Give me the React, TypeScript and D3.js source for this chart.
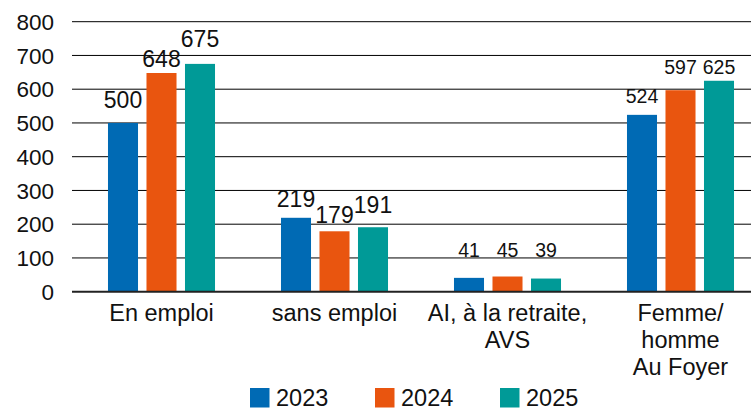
import React from "react";
import * as d3 from "d3";

const categories: string[][] = [
  ["En emploi"],
  ["sans emploi"],
  ["AI, à la retraite,", "AVS"],
  ["Femme/", "homme", "Au Foyer"],
];
const years = ["2023", "2024", "2025"];
const values2023 = [500, 219, 41, 524];
const values2024 = [648, 179, 45, 597];
const values2025 = [675, 191, 39, 625];
const yTicks = [0, 100, 200, 300, 400, 500, 600, 700, 800];

// layout-only: label lift above the bar top (px) per category / year
const labelLift = [
  [14.6, 6.3, 17.2],
  [11.1, 8.6, 13.9],
  [21.2, 19.8, 21.8],
  [11.6, 15.9, 6.5],
];
const labelSize = [23, 23, 19.5, 19.5];

const colors = ["#006AB4", "#E9550F", "#009A97"];

const W = 751;
const H = 412;
const FONT = "'Liberation Sans', Arial, Helvetica, sans-serif";

export default function App() {
  const series = [values2023, values2024, values2025];
  const catKeys = categories.map((c) => c.join(" "));
  const y = d3.scaleLinear().domain([0, 800]).range([291.7, 21.7]);
  const x0 = d3.scaleBand<string>().domain(catKeys).range([75, 767]).padding(0);
  const x1 = d3
    .scaleBand<string>()
    .domain(years)
    .range([-57.75, 57.75])
    .paddingInner(0.22)
    .paddingOuter(0.11);
  const gridLeft = 72;

  return (
    <svg
      width={W}
      height={H}
      style={{ position: "absolute", left: 0, top: 0, background: "#fff" }}
      fontFamily={FONT}
    >
      {yTicks.map((t) =>
        t === 0 ? null : (
          <line key={"g" + t} x1={gridLeft} x2={W} y1={y(t)} y2={y(t)} stroke="#000" strokeWidth={1} />
        )
      )}
      {yTicks.map((t) => (
        <text key={"t" + t} x={54} y={y(t)} dy="0.36em" textAnchor="end" fontSize={22.5} fill="#111">
          {t}
        </text>
      ))}
      {catKeys.map((c, ci) => {
        const cx = (x0(c) as number) + x0.bandwidth() / 2;
        return (
          <g key={c}>
            {years.map((yr, si) => {
              const v = series[si][ci];
              const bx = cx + (x1(yr) as number);
              return (
                <rect
                  key={yr}
                  x={bx}
                  y={y(v)}
                  width={x1.bandwidth()}
                  height={y(0) - y(v)}
                  fill={colors[si]}
                />
              );
            })}
          </g>
        );
      })}
      <line x1={gridLeft} x2={W} y1={y(0)} y2={y(0)} stroke="#222" strokeWidth={2} />
      {catKeys.map((c, ci) => {
        const cx = (x0(c) as number) + x0.bandwidth() / 2;
        return (
          <g key={"l" + c}>
            {years.map((yr, si) => {
              const v = series[si][ci];
              const bx = cx + (x1(yr) as number) + x1.bandwidth() / 2;
              return (
                <text
                  key={yr}
                  x={bx}
                  y={y(v) - labelLift[ci][si]}
                  textAnchor="middle"
                  fontSize={labelSize[ci]}
                  fill="#111"
                >
                  {v}
                </text>
              );
            })}
            {categories[ci].map((line, li) => (
              <text
                key={"c" + li}
                x={cx}
                y={321 + li * 27}
                textAnchor="middle"
                fontSize={23.5}
                fill="#111"
              >
                {line}
              </text>
            ))}
          </g>
        );
      })}
      {years.map((yr, i) => (
        <g key={"lg" + yr} transform={`translate(${250 + i * 125},0)`}>
          <rect x={0} y={388} width={19.5} height={19.5} fill={colors[i]} />
          <text x={26} y={406} fontSize={23.5} fill="#111">
            {yr}
          </text>
        </g>
      ))}
    </svg>
  );
}
